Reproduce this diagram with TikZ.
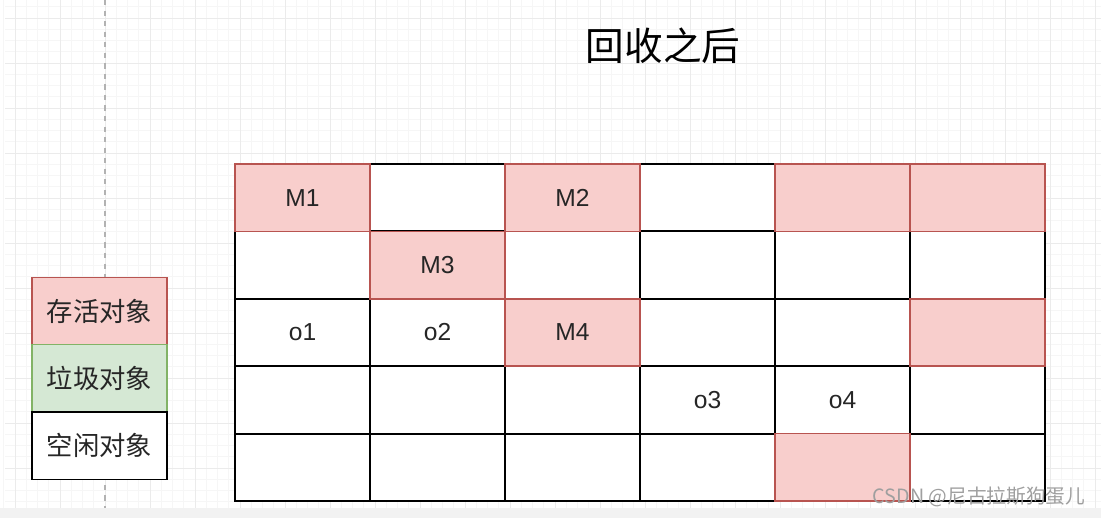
\documentclass[tikz,border=0pt]{standalone}
\usepackage{fontspec}
\setsansfont{Liberation Sans}
\newfontfamily\cjk{Noto Sans CJK SC}
\usepackage{xcolor}
\usetikzlibrary{positioning}
\definecolor{liveFill}{HTML}{F8CECC}
\definecolor{liveLine}{HTML}{B85450}
\definecolor{garbageFill}{HTML}{D5E8D4}
\definecolor{garbageLine}{HTML}{82B366}
\definecolor{gridMajor}{HTML}{EBEBEB}
\definecolor{gridMinor}{HTML}{F6F6F6}
\tikzstyle{cellbox} = [rectangle, minimum width=2.7cm, minimum height=1.348cm,
  inner sep=0pt, outer sep=0pt, font=\sffamily\fontsize{14}{16}\selectfont, text=black!85]
\tikzstyle{freebox} = [cellbox, fill=white, draw=black, line width=1.1pt]
\tikzstyle{livebox} = [cellbox, fill=liveFill, draw=liveLine, line width=0.9pt]
\tikzstyle{garbagebox} = [cellbox, fill=garbageFill, draw=garbageLine, line width=0.9pt]
\tikzstyle{legendtext} = [font=\cjk\fontsize{15}{17}\selectfont]

\begin{document}
\begin{tikzpicture}[x=0.02cm, y=-0.02cm, node distance=0pt]
  \useasboundingbox (0,0) rectangle (1101,518);
  % Background grid
  \fill[white] (0,0) rectangle (1101,518);
  \foreach \i in {0,...,97} {
    \draw[gridMinor, line width=0.35pt] ({3.75+11.25*\i},0) -- ++(0,508);
  }
  \foreach \i in {0,...,44} {
    \draw[gridMinor, line width=0.35pt] (5,{6.75+11.25*\i}) -- (1101,{6.75+11.25*\i});
  }
  \foreach \i in {0,...,24} {
    \draw[gridMajor, line width=0.5pt] ({15+45*\i},0) -- ++(0,508);
  }
  \foreach \i in {0,...,10} {
    \draw[gridMajor, line width=0.5pt] (5,{18+45*\i}) -- (1101,{18+45*\i});
  }
  \fill[gray!10] (0,508) rectangle (1101,518);
  \draw[gray!60, dashed, line width=0.6pt] (105,0) -- (105,508);

  % Title
  \node[font=\cjk\fontsize{22}{26}\selectfont] (title) at (663,46) {回收之后};

  % Memory cells
  \foreach \r in {0,...,4} {
    \foreach \c in {0,...,5} {
      \node[freebox] (cell-\r-\c) at ({302.5+135*\c},{197.7+67.4*\r}) {};
    }
  }
  \node[livebox] at (cell-0-0) {M1};
  \node[livebox] at (cell-0-2) {M2};
  \node[livebox] at (cell-0-4) {};
  \node[livebox] at (cell-0-5) {};
  \node[livebox] at (cell-1-1) {M3};
  \node[livebox] at (cell-2-2) {M4};
  \node[livebox] at (cell-2-5) {};
  \node[livebox] at (cell-4-4) {};
  \node[cellbox] at (cell-2-0) {o1};
  \node[cellbox] at (cell-2-1) {o2};
  \node[cellbox] at (cell-3-3) {o3};
  \node[cellbox] at (cell-3-4) {o4};

  % Legend
  \node[livebox, legendtext] (legLive) at (99.5,311) {存活对象};
  \node[garbagebox, legendtext, below=of legLive] (legGarbage) {垃圾对象};
  \node[freebox, legendtext, below=of legGarbage] (legFree) {空闲对象};

  % Watermark
  \node[font=\cjk\fontsize{11.2}{13}\selectfont, text=gray!75] (mark) at (979,497) {CSDN @尼古拉斯狗蛋儿};
\end{tikzpicture}
\end{document}
